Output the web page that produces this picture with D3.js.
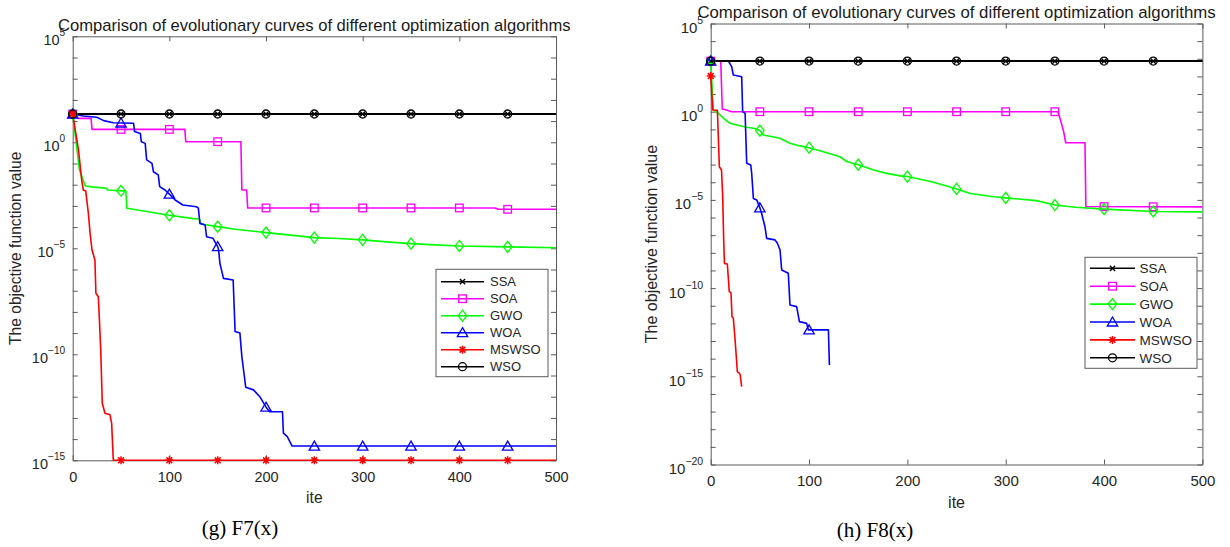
<!DOCTYPE html>
<html>
<head>
<meta charset="utf-8">
<script src="https://cdn.jsdelivr.net/npm/d3@7"></script>
<style>
  html, body { margin: 0; padding: 0; background: #fff; }
  svg { display: block; }
  text { font-family: "Liberation Sans", Arial, Helvetica, sans-serif; }
</style>
</head>
<body>
<svg id="fig" width="1230" height="547"></svg>
<script>
// ---------------------------------------------------------------
// Convergence data: [iteration, best objective value]
// ---------------------------------------------------------------
const algorithms = ["SSA", "SOA", "GWO", "WOA", "MSWSO", "WSO"];
const markerIterations = [0, 50, 100, 150, 200, 250, 300, 350, 400, 450];
const xTicks = [0, 100, 200, 300, 400, 500];

// F7
const f7SSA = [[0, 21.6], [500, 21.6]];
const f7SOA = [[0, 21.6], [6, 13.5], [19, 13.5], [20, 4.07], [116, 4.07], [117, 1.07], [174, 1.07],
  [175, 5.6e-3], [180, 5.6e-3], [181, 8.0e-4], [437, 8.0e-4], [440, 6.9e-4], [500, 6.9e-4]];
const f7GWO = [[0, 21.6], [3, 1.6], [7, 0.05], [13, 8.7e-3], [20, 7.9e-3], [35, 6.8e-3], [36, 5.6e-3],
  [55, 5.0e-3], [56, 7.8e-4], [75, 5.6e-4], [98, 3.7e-4], [125, 2.5e-4], [131, 2.4e-4], [133, 1.4e-4],
  [150, 1.05e-4], [168, 7.9e-5], [200, 5.5e-5], [225, 4.2e-5], [250, 3.2e-5], [275, 2.9e-5],
  [300, 2.5e-5], [325, 2.0e-5], [350, 1.66e-5], [375, 1.45e-5], [400, 1.29e-5], [450, 1.17e-5],
  [500, 1.07e-5]];
const f7WOA = [[0, 21.6], [11, 17.4], [25, 15.1], [32, 10.5], [42, 8.3], [63, 7.9], [64, 3.2], [70, 2.6],
  [71, 1.07], [75, 0.89], [76.5, 0.148], [82, 0.102], [83.5, 0.041], [88.5, 0.029], [90, 8.1e-3],
  [95.5, 5.6e-3], [100, 3.6e-3], [106, 1.9e-3], [114, 1.1e-3], [128, 9.1e-4], [130, 7.8e-4],
  [131.6, 1.5e-4], [137, 1.26e-4], [138.5, 3.5e-5], [145, 3.0e-5], [150, 1.2e-5], [151, 8.3e-6],
  [152.3, 1.95e-6], [156, 3.8e-7], [166, 3.2e-7], [168, 1.2e-9], [173, 1.0e-9], [175, 7.8e-11],
  [177, 1.5e-11], [179, 2.8e-12], [187, 2.1e-12], [193.6, 1.0e-12], [200, 3.2e-13], [204, 1.95e-13],
  [217, 1.95e-13], [218, 1.9e-14], [222, 1.3e-14], [227, 4.7e-15], [500, 4.7e-15]];
const f7MSWSO = [[0, 21.6], [6, 0.44], [9.3, 0.0166], [11, 5.6e-3], [13.5, 5.0e-3], [16.2, 4.5e-4],
  [18, 5.1e-5], [20, 8.3e-6], [23, 2.8e-6], [24, 7.6e-8], [26.5, 5.2e-8], [27.5, 5.9e-9], [29, 1.6e-10],
  [30.6, 4.9e-13], [33.4, 1.66e-13], [38.6, 1.4e-13], [40.3, 5.5e-14], [42, 1e-15], [500, 1e-15]];
const f7WSO = [[0, 21.6], [500, 21.6]];

// F8
const f8SSA = [[0, 740], [500, 740]];
const f8SOA = [[0, 740], [10.2, 740], [11.8, 1.41], [16, 1.26], [21, 1.0], [353, 1.0], [355.7, 0.34],
  [358.9, 0.074], [361, 0.0174], [380.6, 0.0174], [381.5, 4.2e-6], [500, 4.0e-6]];
const f8GWO = [[0, 740], [2.7, 1.26], [7.8, 0.81], [12.9, 0.43], [19.7, 0.22], [26.4, 0.178],
  [36.6, 0.132], [45, 0.112], [50, 0.085], [53.5, 0.048], [70.4, 0.031], [80.6, 0.0162],
  [90.8, 0.0115], [100, 9.1e-3], [114.5, 5.4e-3], [131.5, 2.8e-3], [138.3, 1.5e-3], [150.9, 9.5e-4],
  [165.5, 4.9e-4], [179, 3.2e-4], [192.7, 2.3e-4], [200, 2.1e-4], [224.5, 1.07e-4], [240, 6.2e-5],
  [250, 4.2e-5], [264, 2.3e-5], [287.7, 1.5e-5], [300, 1.3e-5], [331, 9.1e-6], [350, 5.1e-6],
  [370.8, 3.8e-6], [400, 3.0e-6], [450, 2.2e-6], [500, 2.1e-6]];
const f8WOA = [[0, 740], [18, 740], [21.3, 355], [23, 120], [31.5, 95], [32.5, 1.0], [35, 0.81],
  [36.6, 1.2e-3], [40.7, 9.5e-4], [41.7, 3.2e-4], [43.4, 1.2e-5], [46.8, 1.0e-5], [50.2, 3.3e-6],
  [51.8, 1.7e-6], [55.2, 3.0e-7], [56.9, 6.6e-8], [65.4, 5.4e-8], [67.8, 3.5e-8], [70.5, 1.45e-8],
  [72.2, 1.07e-9], [78.9, 6.9e-10], [80.6, 1.1e-11], [87.4, 8.9e-12], [90.2, 1.26e-12],
  [97.6, 1.0e-12], [99.3, 4.3e-13], [119.7, 4.3e-13], [120.7, 4.4e-15]];
const f8MSWSO = [[0, 105], [2, 1.26], [6.8, 1.2], [8.8, 7.6e-4], [11, 5.0e-4], [12.2, 1.5e-5],
  [13.2, 5.4e-8], [14, 2.5e-9], [16.9, 2.3e-9], [18.9, 6.3e-11], [20.6, 5.5e-11], [21.7, 2.4e-12],
  [23, 2.0e-12], [24.7, 1.4e-13], [27.1, 1.8e-15], [29.1, 1.5e-15], [30, 1.2e-15], [31.5, 2.6e-16]];
const f8WSO = [[0, 740], [500, 740]];

// ---------------------------------------------------------------
// Styling per algorithm
// ---------------------------------------------------------------
const seriesStyle = {
  SSA:   { color: "#000000", marker: "x",        width: 2.0 },
  SOA:   { color: "#ff00ff", marker: "square",   width: 1.6 },
  GWO:   { color: "#00ff00", marker: "diamond",  width: 1.6 },
  WOA:   { color: "#0000ff", marker: "triangle", width: 1.6 },
  MSWSO: { color: "#ff0000", marker: "star",     width: 1.6 },
  WSO:   { color: "#000000", marker: "circle",   width: 2.0 }
};

const AXIS_COLOR = "#5a5a5a";
const TEXT_COLOR = "#262626";

const svg = d3.select("#fig");

// value of a piecewise-linear (in log space) curve at a given iteration
function valueAt(series, it) {
  for (let i = 0; i < series.length - 1; i++) {
    const [x0, v0] = series[i], [x1, v1] = series[i + 1];
    if (it >= x0 && it <= x1) {
      if (x1 === x0) return v1;
      const t = (it - x0) / (x1 - x0);
      return Math.pow(10, Math.log10(v0) + t * (Math.log10(v1) - Math.log10(v0)));
    }
  }
  return series[series.length - 1][1];
}

function drawMarker(g, type, cx, cy, color) {
  const m = g.append("g").attr("transform", `translate(${cx},${cy})`)
    .attr("fill", "none").attr("stroke", color).attr("stroke-width", 1.3);
  if (type === "square") {
    m.append("rect").attr("x", -3.8).attr("y", -3.8).attr("width", 7.6).attr("height", 7.6);
  } else if (type === "diamond") {
    m.append("path").attr("d", "M0,-5.5L4.3,0L0,5.5L-4.3,0Z");
  } else if (type === "triangle") {
    m.append("path").attr("d", "M0,-5L5.2,4L-5.2,4Z");
  } else if (type === "circle") {
    m.append("circle").attr("r", 4);
  } else if (type === "x") {
    m.append("path").attr("d", "M-2.6,-2.6L2.6,2.6M-2.6,2.6L2.6,-2.6").attr("stroke-width", 1.4);
  } else if (type === "star") {
    m.append("path")
      .attr("d", "M-4,0L4,0M0,-4L0,4M-2.9,-2.9L2.9,2.9M-2.9,2.9L2.9,-2.9")
      .attr("stroke-width", 1.5);
  }
}

function drawPanel(cfg) {
  const g = svg.append("g");
  const x = d3.scaleLinear().domain([0, 500]).range([cfg.left, cfg.right]);
  const y = d3.scaleLog().domain([1e5, Math.pow(10, cfg.minExp)]).range([cfg.top, cfg.bottom]);

  const decades = d3.range(cfg.minExp, 6).map(e => Math.pow(10, e));

  // axes (box with inward ticks on all sides)
  const bottomAxis = d3.axisBottom(x).tickValues(xTicks).tickSizeInner(-5).tickSizeOuter(0)
    .tickPadding(11).tickFormat(d3.format("d"));
  const topAxis = d3.axisTop(x).tickValues(xTicks).tickSizeInner(-5).tickSizeOuter(0).tickFormat("");
  const leftAxis = d3.axisLeft(y).tickValues(decades).tickSizeInner(-5).tickSizeOuter(0).tickFormat("");
  const rightAxis = d3.axisRight(y).tickValues(decades).tickSizeInner(-5).tickSizeOuter(0).tickFormat("");

  const gb = g.append("g").attr("transform", `translate(0,${cfg.bottom})`).call(bottomAxis);
  g.append("g").attr("transform", `translate(0,${cfg.top})`).call(topAxis);
  const gl = g.append("g").attr("transform", `translate(${cfg.left},0)`).call(leftAxis);
  g.append("g").attr("transform", `translate(${cfg.right},0)`).call(rightAxis);

  g.selectAll(".domain, .tick line").attr("stroke", AXIS_COLOR).attr("stroke-width", 1);
  gb.selectAll(".tick text").attr("fill", TEXT_COLOR)
    .style("font-size", cfg.tickFont + "px")
    .style("font-family", '"Liberation Sans", Arial, sans-serif');

  // decade labels 10^k every five decades
  gl.selectAll(".tick").filter(d => Math.round(Math.log10(d)) % 5 === 0)
    .append("text")
    .attr("x", -7.5)
    .attr("y", cfg.decadeDy)
    .attr("text-anchor", "end")
    .attr("fill", TEXT_COLOR)
    .style("font-family", '"Liberation Sans", Arial, sans-serif')
    .style("font-size", cfg.tickFont + "px")
    .each(function (d) {
      const t = d3.select(this);
      const e = Math.round(Math.log10(d));
      t.append("tspan").text("10");
      t.append("tspan").attr("dy", -9).style("font-size", (cfg.tickFont * 0.7) + "px")
        .text(e < 0 ? "\u2212" + (-e) : String(e));
    });

  // title, axis labels and caption
  g.append("text").attr("x", (cfg.left + cfg.right) / 2).attr("y", cfg.titleY)
    .attr("text-anchor", "middle").attr("fill", "#1a1a1a")
    .style("font-size", cfg.titleFont + "px")
    .text("Comparison of evolutionary curves of different optimization algorithms");

  g.append("text").attr("x", (cfg.left + cfg.right) / 2).attr("y", cfg.bottom + 43)
    .attr("text-anchor", "middle").attr("fill", TEXT_COLOR)
    .style("font-size", cfg.labelFont + "px").text("ite");

  g.append("text")
    .attr("transform", `translate(${cfg.yLabelX},${(cfg.top + cfg.bottom) / 2}) rotate(-90)`)
    .attr("text-anchor", "middle").attr("fill", TEXT_COLOR)
    .style("font-size", cfg.labelFont + "px").text("The objective function value");

  g.append("text").attr("x", cfg.captionX).attr("y", cfg.captionY)
    .attr("text-anchor", "middle").attr("fill", "#000")
    .style("font-family", '"Liberation Serif", "Times New Roman", serif')
    .style("font-size", "21px").text(cfg.caption);

  // curves
  const line = d3.line().x(d => x(d[0])).y(d => y(d[1]));
  const plot = g.append("g");
  algorithms.forEach(name => {
    const s = cfg.series[name], st = seriesStyle[name];
    plot.append("path").datum(s).attr("d", line)
      .attr("fill", "none").attr("stroke", st.color)
      .attr("stroke-width", st.width).attr("stroke-linejoin", "round");
  });
  algorithms.forEach(name => {
    const s = cfg.series[name], st = seriesStyle[name];
    const last = s[s.length - 1][0];
    markerIterations.filter(it => it <= last).forEach(it => {
      drawMarker(plot, st.marker, x(it), y(valueAt(s, it)), st.color);
    });
  });

  // legend
  const L = cfg.legend;
  const lg = g.append("g");
  lg.append("rect").attr("x", L.x).attr("y", L.y).attr("width", L.w).attr("height", L.h)
    .attr("fill", "#fff").attr("stroke", AXIS_COLOR).attr("stroke-width", 1);
  algorithms.forEach((name, i) => {
    const st = seriesStyle[name];
    const ry = L.row0 + i * L.step;
    lg.append("line").attr("x1", L.x + L.line0).attr("x2", L.x + L.line1)
      .attr("y1", ry).attr("y2", ry).attr("stroke", st.color).attr("stroke-width", st.width === 2 ? 1.6 : st.width);
    drawMarker(lg, st.marker, L.x + (L.line0 + L.line1) / 2, ry, st.color);
    lg.append("text").attr("x", L.x + L.textX).attr("y", ry + L.font * 0.36)
      .attr("fill", TEXT_COLOR).style("font-size", L.font + "px").text(name);
  });
}

drawPanel({
  left: 72.7, right: 556, top: 36.3, bottom: 460.3, minExp: -15,
  titleY: 30.7, titleFont: 16.6, tickFont: 14.5, labelFont: 15.6, decadeDy: 8,
  yLabelX: 21, captionX: 240, captionY: 535, caption: "(g) F7(x)",
  series: { SSA: f7SSA, SOA: f7SOA, GWO: f7GWO, WOA: f7WOA, MSWSO: f7MSWSO, WSO: f7WSO },
  legend: { x: 436, y: 269.3, w: 112, h: 107.4, row0: 281.7, step: 17, line0: 5, line1: 48, textX: 54, font: 13 }
});

drawPanel({
  left: 710.7, right: 1202.4, top: 23.5, bottom: 464.5, minExp: -20,
  titleY: 18.3, titleFont: 16.8, tickFont: 15, labelFont: 16, decadeDy: 9,
  yLabelX: 657, captionX: 875, captionY: 537, caption: "(h) F8(x)",
  series: { SSA: f8SSA, SOA: f8SOA, GWO: f8GWO, WOA: f8WOA, MSWSO: f8MSWSO, WSO: f8WSO },
  legend: { x: 1085, y: 257.3, w: 112, h: 111, row0: 268.3, step: 17.9, line0: 5, line1: 50, textX: 54.5, font: 13.5 }
});
</script>
</body>
</html>
